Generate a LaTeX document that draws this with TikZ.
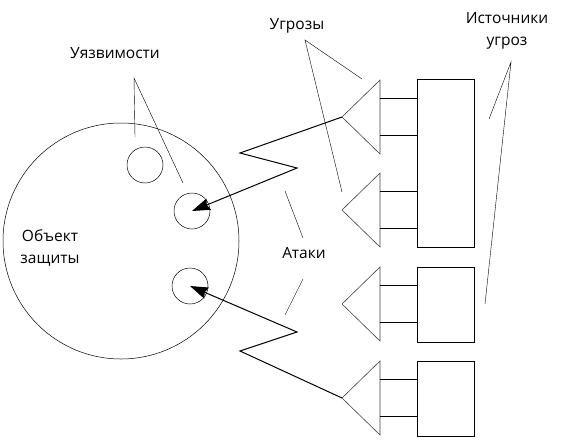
\documentclass[tikz,border=0pt]{standalone}
\usepackage{fontspec}
\setmainfont{Open Sans}
\usepackage{tikz}
\usetikzlibrary{arrows.meta, positioning}
\tikzstyle{bigCircle} = [circle, draw=black, line width=0.5pt, inner sep=0pt, minimum size=236pt]
\tikzstyle{weakNode} = [circle, draw=black, line width=0.5pt, inner sep=0pt, minimum size=36pt]
\tikzstyle{sourceBox} = [rectangle, draw=black, line width=0.6pt, inner sep=0pt, minimum width=57pt]
\tikzstyle{threat} = [draw=black!75, line width=0.6pt]
\tikzstyle{link} = [line width=0.6pt, -]
\tikzstyle{pointer} = [line width=0.4pt, -]
\tikzstyle{attack} = [line width=1pt, -{Stealth[length=18pt,width=12pt,inset=2pt]}]
\tikzstyle{caption} = [font=\fontsize{15.5}{22}\selectfont, align=center, inner sep=0pt]

\begin{document}
\begin{tikzpicture}[x=1pt, y=-1pt]
                        \useasboundingbox (0,0) rectangle (572,439);
                        % object and vulnerabilities
                        \node (obj) [bigCircle] at (121,241) {};
                        \node (vul1) [weakNode] at (145,165) {};
                        \node (vul2) [weakNode] at (192,211) {};
                        \node (vul3) [weakNode] at (190,286) {};
                        % threats
                        \foreach \name/\ty in {thr1/117, thr2/210, thr3/304, thr4/398} {
                            \coordinate (\name) at (342,\ty);
                            \draw [threat] (\name) -- (380,\ty-37) -- (380,\ty+37) -- cycle;
                            \draw [link] (380,\ty-19) -- (417,\ty-19);
                            \draw [link] (380,\ty+18) -- (417,\ty+18);
                        }
                        % sources
                        \node (src1) [sourceBox, minimum height=168pt] at (445.5,163) {};
                        \node (src2) [sourceBox, minimum height=75pt] at (445.5,304.5) {};
                        \node (src3) [sourceBox, minimum height=75pt] at (445.5,398.5) {};
                        % attacks
                        \coordinate (atkA1) at (240,153);
                        \coordinate (atkA2) at (297,168);
                        \coordinate (atkB1) at (240,351);
                        \coordinate (atkB2) at (297,332);
                        \draw [attack] (thr1) -- (atkA1) -- (atkA2) -- (vul2.center);
                        \draw [attack] (thr4) -- (atkB1) -- (atkB2) -- (vul3.center);
                        % captions
                        \node (capObj) [caption] at (50,248) {Объект\\защиты};
                        \node (capVul) [caption] at (115,53) {Уязвимости};
                        \node (capThr) [caption] at (297,26) {Угрозы};
                        \node (capSrc) [caption] at (507,31) {Источники\\угроз};
                        \node (capAtk) [caption] at (304,253) {Атаки};
                        % pointers
                        \coordinate (vulV) at (134,78);
                        \coordinate (vulE1) at (135,137);
                        \coordinate (vulE2) at (183,183);
                        \coordinate (thrV) at (305,40);
                        \coordinate (thrE1) at (362,79);
                        \coordinate (thrE2) at (342,192);
                        \coordinate (srcV) at (511,62);
                        \coordinate (srcE1) at (489,119);
                        \coordinate (srcE2) at (485,304);
                        \coordinate (atkT1) at (285,191);
                        \coordinate (atkT2) at (303,238);
                        \coordinate (atkU1) at (303,279);
                        \coordinate (atkU2) at (285,315);
                        \draw [pointer] (vulE1) -- (vulV) -- (vulE2);
                        \draw [pointer] (thrE1) -- (thrV) -- (thrE2);
                        \draw [pointer] (srcE1) -- (srcV) -- (srcE2);
                        \draw [pointer] (atkT1) -- (atkT2);
                        \draw [pointer] (atkU1) -- (atkU2);
                    \end{tikzpicture}
\end{document}
